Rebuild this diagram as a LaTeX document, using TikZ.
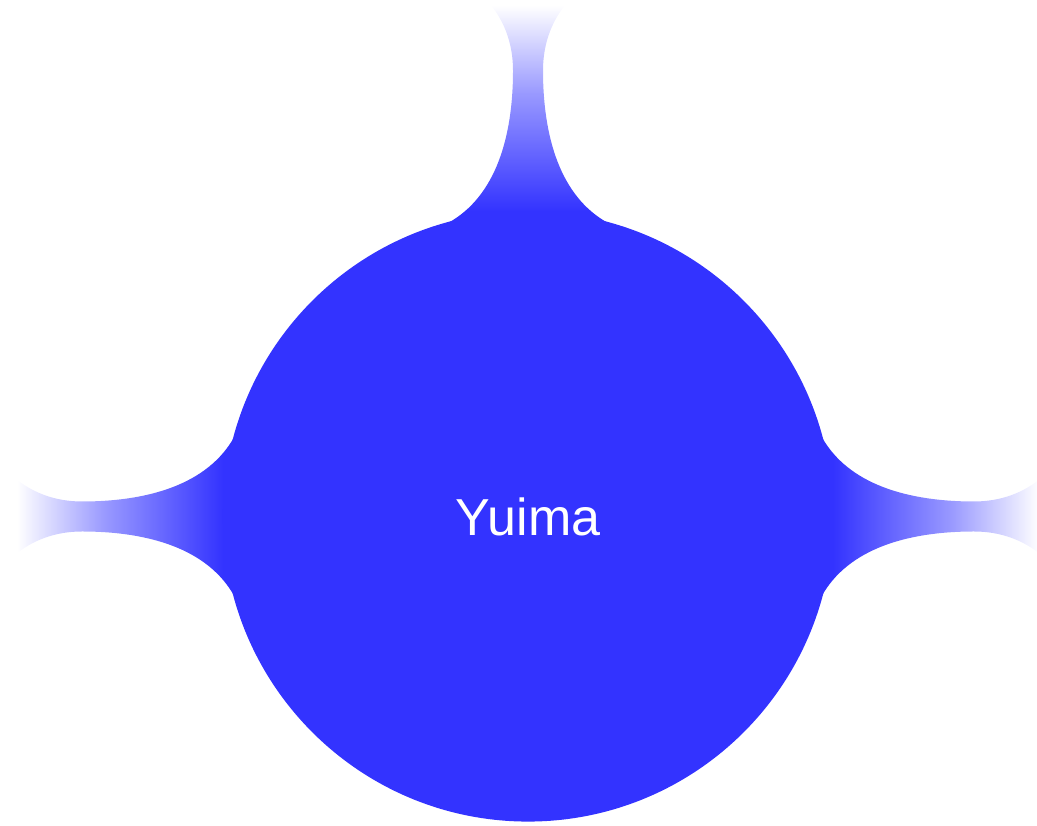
\documentclass[tikz,border=0pt]{standalone}
\usepackage{fontspec}
\setsansfont{Liberation Sans}
\definecolor{yuimablue}{HTML}{3333FF}
\colorlet{stemmid}{yuimablue!50!white}
\pgfdeclareverticalshading{stemshade}{100bp}{color(0bp)=(yuimablue); color(27.5bp)=(yuimablue); color(53bp)=(stemmid); color(72bp)=(white); color(100bp)=(white)}

\begin{document}
\begin{tikzpicture}[x=0.025cm,y=0.025cm,
  rootconcept/.style={circle,fill=yuimablue,minimum size=15.25cm,inner sep=0pt,outer sep=0pt,
    text=white,font=\sffamily\fontsize{37}{44}\selectfont},
  stembar/.style={shading=stemshade}]
\useasboundingbox (0,0) rectangle (1037,826);
\coordinate (c) at (528,309.5);
\begin{scope}[shift={(c)}]
% top branch
\shade[stembar] (-80,293.5) .. controls (-32,320) and (-15,380) .. (-15,446)
  .. controls (-15,470) and (-22,500) .. (-50,525) -- (50,525)
  .. controls (22,500) and (15,470) .. (15,446)
  .. controls (15,380) and (32,320) .. (80,293.5) -- cycle;
% left branch
\shade[stembar,shading angle=90] (-293.5,-80) .. controls (-320,-32) and (-380,-15) .. (-446,-15)
  .. controls (-470,-15) and (-500,-22) .. (-525,-50) -- (-525,50)
  .. controls (-500,22) and (-470,15) .. (-446,15)
  .. controls (-380,15) and (-320,32) .. (-293.5,80) -- cycle;
% right branch
\shade[stembar,shading angle=-90] (293.5,80) .. controls (320,32) and (380,15) .. (446,15)
  .. controls (470,15) and (500,22) .. (525,50) -- (525,-50)
  .. controls (500,-22) and (470,-15) .. (446,-15)
  .. controls (380,-15) and (320,-32) .. (293.5,-80) -- cycle;
\end{scope}
\node[rootconcept] (yuima) at (c) {Yuima};
\end{tikzpicture}
\end{document}
